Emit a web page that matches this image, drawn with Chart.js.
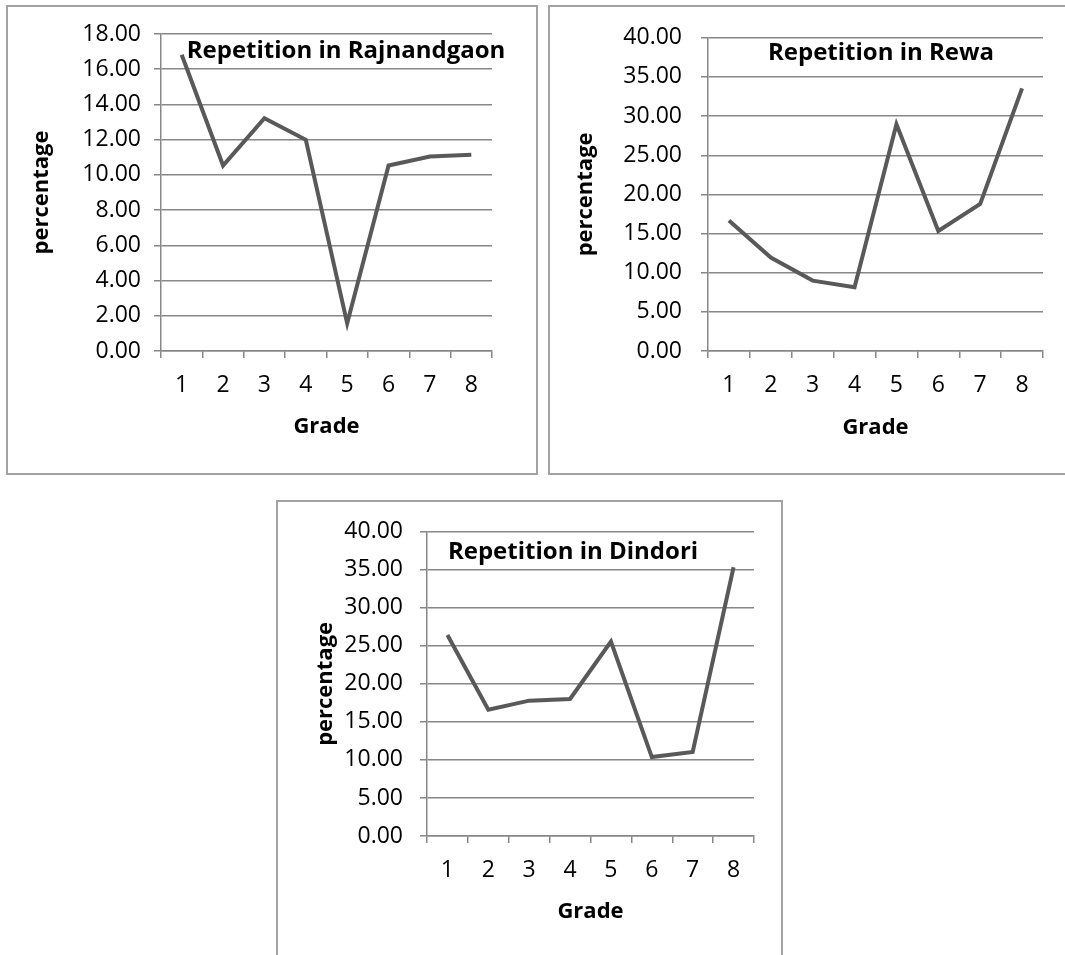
<!DOCTYPE html>
<html>
<head>
<meta charset="utf-8">
<script src="https://cdn.jsdelivr.net/npm/chart.js@4/dist/chart.umd.min.js"></script>
<style>
  body { margin: 0; background: #fff; }
  #page { position: relative; width: 1065px; height: 955px; overflow: hidden; }
  .box { position: absolute; border: 2px solid #a3a3a3; box-sizing: border-box; }
  canvas { position: absolute; }
</style>
</head>
<body>
<div id="page">
  <div class="box" style="left:6px; top:5px; width:532px; height:470px;"></div>
  <div class="box" style="left:548px; top:5px; width:530px; height:470px;"></div>
  <div class="box" style="left:276px; top:500px; width:507px; height:470px;"></div>
  <canvas id="chartRajnandgaon" width="531" height="469" style="left:6px; top:5px;"></canvas>
  <canvas id="chartRewa" width="516" height="469" style="left:549px; top:5px;"></canvas>
  <canvas id="chartDindori" width="505" height="454" style="left:277px; top:501px;"></canvas>
</div>
<script>
const grades = ['1', '2', '3', '4', '5', '6', '7', '8'];

// repetition percentage per grade
const rajnandgaon = [16.82, 10.53, 13.22, 11.99, 1.57, 10.53, 11.04, 11.14];
const rewa = [16.67, 11.94, 8.99, 8.14, 28.95, 15.32, 18.77, 33.54];
const dindori = [26.44, 16.62, 17.80, 18.02, 25.56, 10.38, 11.04, 35.34];

// y axis range: [max, step]
const yRangeRajnandgaon = [18, 2];
const yRangeRewa = [40, 5];
const yRangeDindori = [40, 5];

const FONT = "'Open Sans', sans-serif";
const GRID = '#878787';
const LINE = '#595959';

// title drawn inside the plot area, like the spreadsheet charts
const innerTitle = {
    id: 'innerTitle',
    afterDraw(chart, args, opts) {
        const c = chart.ctx;
        c.save();
        c.font = 'bold ' + opts.size + 'px ' + FONT;
        c.fillStyle = '#000';
        c.textAlign = 'center';
        c.textBaseline = 'middle';
        c.fillText(opts.text, opts.x, opts.y);
        c.restore();
    }
};

function lineChart(id, titulo, valores, yRange, lay) {
    const ctx = document.getElementById(id);
    return new Chart(ctx, {
        type: 'line',
        data: {
            labels: grades,
            datasets: [{
                data: valores,
                borderColor: LINE,
                borderWidth: 4,
                pointRadius: 0,
                tension: 0,
                fill: false
            }]
        },
        options: {
            responsive: false,
            animation: false,
            devicePixelRatio: 1,
            layout: { padding: { left: 0, top: lay.top, right: lay.right, bottom: 0 } },
            scales: {
                x: {
                    offset: true,
                    afterFit: s => { s.height = lay.xHeight; },
                    grid: { display: true, offset: true, drawOnChartArea: false, drawTicks: true, tickLength: 7, color: GRID, lineWidth: 1.5 },
                    border: { display: true, color: GRID, width: 1.5 },
                    ticks: { color: '#000', font: { family: FONT, size: 23 }, padding: 14, maxRotation: 0 },
                    title: { display: true, text: 'Grade', color: '#000', font: { family: FONT, size: 22, weight: 'bold' }, padding: { top: 0, bottom: lay.xTitlePad } }
                },
                y: {
                    min: 0,
                    max: yRange[0],
                    afterFit: s => { s.width = lay.yWidth; },
                    grid: { color: GRID, lineWidth: 1.5, drawTicks: true, tickLength: 7 },
                    border: { display: true, color: GRID, width: 1.5 },
                    ticks: {
                        stepSize: yRange[1],
                        color: '#000',
                        font: { family: FONT, size: 23 },
                        padding: lay.yTickPad,
                        callback: v => Number(v).toFixed(2)
                    },
                    title: { display: true, text: 'percentage', color: '#000', font: { family: FONT, size: 22, weight: 'bold' }, padding: { top: lay.yTitlePad, bottom: 0 } }
                }
            },
            plugins: {
                legend: { display: false },
                tooltip: { enabled: false },
                innerTitle: { text: titulo, x: lay.titleX, y: lay.titleY, size: 24 }
            }
        },
        plugins: [innerTitle]
    });
}

lineChart('chartRajnandgaon', 'Repetition in Rajnandgaon', rajnandgaon, yRangeRajnandgaon, {
    top: 29, right: 45, yWidth: 155, xHeight: 123, yTickPad: 13, yTitlePad: 23, xTitlePad: 34, titleX: 340, titleY: 46
});

lineChart('chartRewa', 'Repetition in Rewa', rewa, yRangeRewa, {
    top: 30, right: 22, yWidth: 159, xHeight: 123, yTickPad: 19, yTitlePad: 24, xTitlePad: 33, titleX: 332, titleY: 48
});

lineChart('chartDindori', 'Repetition in Dindori', dindori, yRangeDindori, {
    top: 30, right: 28, yWidth: 150, xHeight: 119, yTickPad: 17, yTitlePad: 36, xTitlePad: 30, titleX: 296, titleY: 51
});
</script>
</body>
</html>
